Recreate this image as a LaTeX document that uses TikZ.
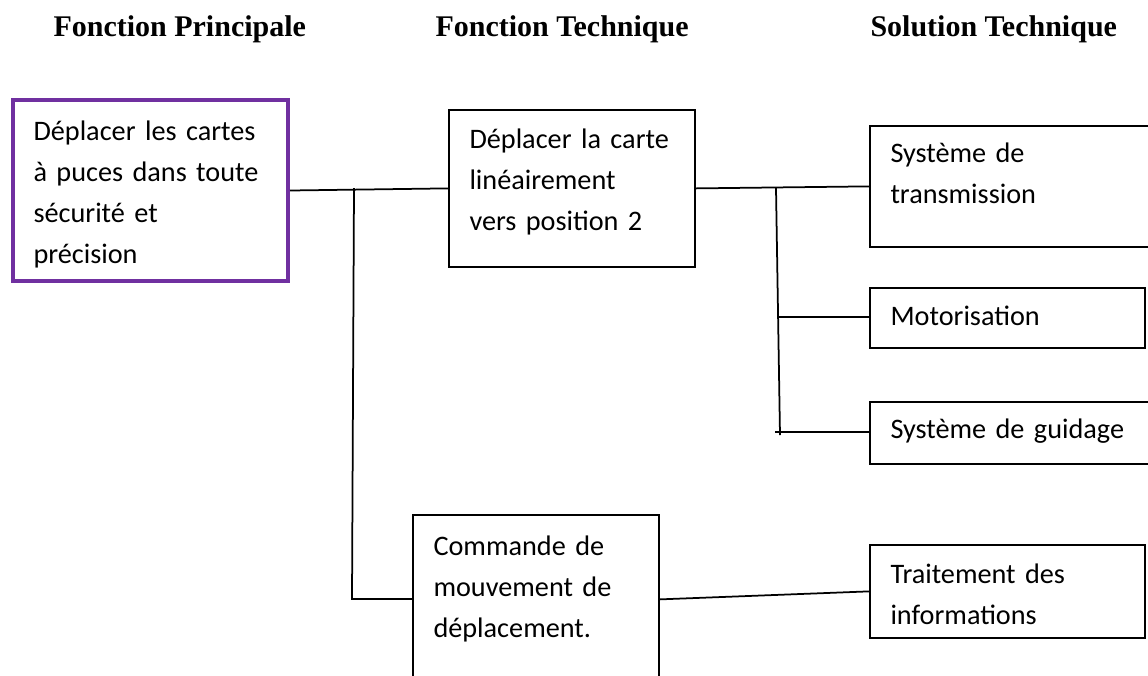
\documentclass[tikz,border=0pt]{standalone}
\usepackage{fontspec}
\setmainfont{Carlito}
\newfontfamily\headfont{Liberation Serif}
\definecolor{fpviolet}{HTML}{7030A0}
\tikzset{
    box/.style={draw, line width=0.7pt, anchor=north west, inner sep=0pt},
    boxtext/.style={anchor=base west, inner sep=0pt, align=left, text width=105pt,
        font=\fontsize{11.3}{16.4}\selectfont},
    head/.style={anchor=base west, inner sep=0pt, font=\headfont\bfseries\fontsize{12}{14}\selectfont},
    link/.style={line width=0.7pt}
}
\begin{document}
\begin{tikzpicture}[x=0.4pt, y=-0.4pt]
        \useasboundingbox (0,0) rectangle (1148,675);
        \clip (0,0) rectangle (1148,675);

        % column titles
        \node[head] (hfp) at (53,36) {Fonction Principale};
        \node[head] (hft) at (435,36) {Fonction Technique};
        \node[head] (hst) at (870,36) {Solution Technique};

        % main function
        \node[box, draw=fpviolet, line width=1.6pt, minimum width=110pt, minimum height=72.4pt] (fp) at (11,98) {};
        \node[boxtext] (fpt) at (33,140) {Déplacer les cartes\\à puces dans toute\\sécurité et\\précision};

        % technical functions
        \node[box, minimum width=98.4pt, minimum height=62.8pt] (ft1) at (448,109) {};
        \node[boxtext] (ft1t) at (469,148) {Déplacer la carte\\linéairement\\vers position 2};
        \node[box, minimum width=98.4pt, minimum height=70.8pt] (ft2) at (412,514) {};
        \node[boxtext] (ft2t) at (433,555) {Commande de\\mouvement de\\déplacement.};

        % technical solutions
        \node[box, minimum width=113.2pt, minimum height=48.4pt] (st1) at (869,125) {};
        \node[boxtext] (st1t) at (890,162) {Système de\\transmission};
        \node[box, minimum width=110pt, minimum height=24pt] (st2) at (869,287) {};
        \node[boxtext] (st2t) at (890,325) {Motorisation};
        \node[box, minimum width=113.2pt, minimum height=24.8pt] (st3) at (869,401) {};
        \node[boxtext] (st3t) at (890,438) {Système de guidage};
        \node[box, minimum width=110pt, minimum height=37.2pt] (st4) at (869,544) {};
        \node[boxtext] (st4t) at (890,583) {Traitement des\\informations};

        % branch points
        \coordinate (fpa) at (354,188);
        \coordinate (fpb) at (352,599);
        \coordinate (ft1a) at (776,188);
        \coordinate (ft1b) at (779,317);
        \coordinate (ft1c) at (780,435);
        \coordinate (ft1d) at (775,432);

        % first level links
        \draw[link] (fp.east) -- (ft1.west);
        \draw[link] (fpa) -- (fpb) -- (fpb -| ft2.west);

        % second level links
        \draw[link] (ft1.east) -- (st1.west);
        \draw[link] (ft1a) -- (ft1c);
        \draw[link] (ft1b) -- (ft1b -| st2.west);
        \draw[link] (ft1d) -- (ft1d -| st3.west);
        \draw[link] ([yshift=1.6pt]ft2.east) -- (st4.west);
\end{tikzpicture}
\end{document}
